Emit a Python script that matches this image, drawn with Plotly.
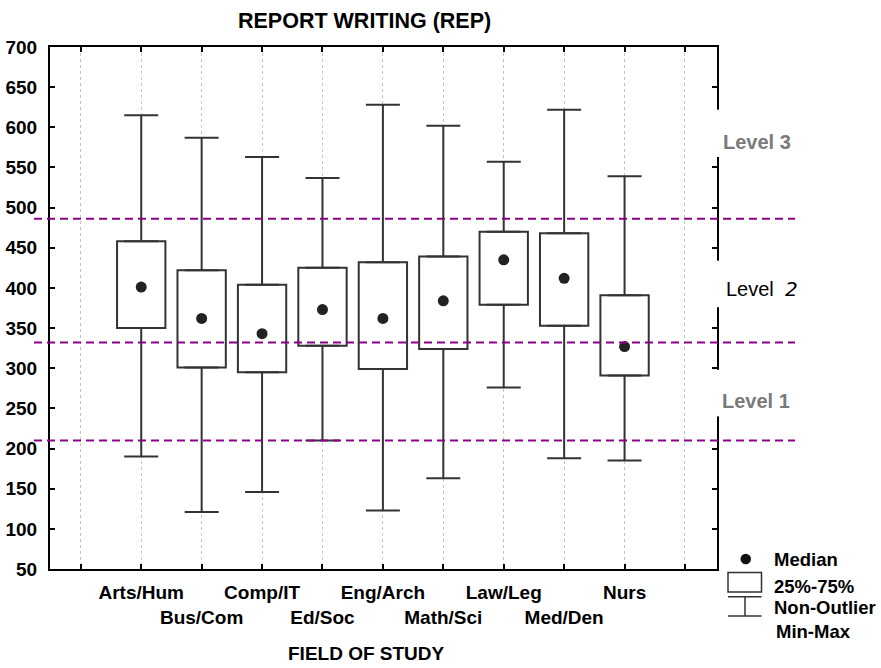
import plotly.graph_objects as go

# ---------------- data ----------------
categories = ["Arts/Hum", "Bus/Com", "Comp/IT", "Ed/Soc", "Eng/Arch",
              "Math/Sci", "Law/Leg", "Med/Den", "Nurs"]
minimum = [190, 121, 146, 210, 123, 163, 276, 188, 185]
q1 = [350, 301, 295, 328, 299, 324, 379, 353, 291]
median = [401, 362, 343, 373, 362, 384, 435, 412, 327]
q3 = [458, 422, 404, 425, 432, 439, 470, 468, 391]
maximum = [615, 587, 563, 537, 628, 602, 557, 622, 539]
level_values = [486, 332, 210]
level_names = ["Level 3", "Level 2", "Level 1"]
y_ticks = list(range(50, 701, 50))

# ---------------- layout geometry ----------------
W, H = 881, 668
L, R, T, B = 50, 164, 47, 99
PW, PH = W - L - R, H - T - B


def px_x(px):
    return (px - L) / PW


def px_y(py):
    return (H - B - py) / PH


positions = list(range(1, len(categories) + 1))
grid_vals = list(range(0, len(categories) + 2))
tick_text = [""] + [c if i % 2 == 0 else "<br>" + c for i, c in enumerate(categories)] + [""]

FONT = "Liberation Sans, Arial, sans-serif"
BOXC = "#333333"

iqr = [b - a for a, b in zip(q1, q3)]
upper_len = [m - b for b, m in zip(q3, maximum)]
lower_len = [a - m for a, m in zip(q1, minimum)]
zeros = [0] * len(categories)

fig = go.Figure()
# whiskers (error bars with caps)
fig.add_trace(go.Scatter(
    x=positions, y=q3, mode="markers", marker=dict(size=1, opacity=0),
    error_y=dict(type="data", array=upper_len, arrayminus=zeros,
                 color=BOXC, thickness=2, width=17),
    showlegend=False, hoverinfo="skip",
))
fig.add_trace(go.Scatter(
    x=positions, y=q1, mode="markers", marker=dict(size=1, opacity=0),
    error_y=dict(type="data", array=zeros, arrayminus=lower_len,
                 color=BOXC, thickness=2, width=17),
    showlegend=False, hoverinfo="skip",
))
# boxes 25%-75%
fig.add_trace(go.Bar(
    x=positions, y=iqr, base=q1, width=0.8,
    marker=dict(color="white", line=dict(color=BOXC, width=2)),
    showlegend=False, hoverinfo="skip",
))
# medians
fig.add_trace(go.Scatter(
    x=positions, y=median, mode="markers",
    marker=dict(color="#222222", size=11),
    showlegend=False, hoverinfo="skip",
))

axis_common = dict(
    showline=True, linecolor="black", linewidth=2, mirror="ticks",
    ticks="inside", ticklen=5, tickwidth=1.5, tickcolor="black",
    zeroline=False, automargin=False, tickangle=0,
    tickfont=dict(family=FONT, size=19, color="black", weight="bold"),
)
fig.update_xaxes(
    **axis_common, range=[-0.51, len(categories) + 1.53],
    tickvals=grid_vals, ticktext=tick_text,
    showgrid=True, gridcolor="#c4c4c4", griddash="dot", gridwidth=1,
    ticklabelstandoff=5,
)
fig.update_yaxes(
    **axis_common, range=[50, 700], tickvals=y_ticks, showgrid=False,
    ticklabelstandoff=7,
)

shapes = []
# level lines
for v in level_values:
    shapes.append(dict(type="line", xref="paper", yref="y",
                       x0=px_x(34), x1=px_x(795), y0=v, y1=v,
                       line=dict(color="#8b008b", width=2, dash="8px,5px"),
                       layer="above"))
# gaps in the right axis for level labels
gaps = [(563, 622), (376, 434), (240, 298)]
for a, b in gaps:
    shapes.append(dict(type="rect", xref="paper", yref="y",
                       x0=px_x(708), x1=px_x(726), y0=a, y1=b,
                       fillcolor="white", line=dict(width=0), layer="above"))
# legend symbols
shapes.append(dict(type="circle", xref="paper", yref="paper",
                   x0=px_x(740.5), x1=px_x(751), y0=px_y(564.3), y1=px_y(553.8),
                   fillcolor="#111111", line=dict(width=0)))
shapes.append(dict(type="rect", xref="paper", yref="paper",
                   x0=px_x(728), x1=px_x(761.5), y0=px_y(592), y1=px_y(572.5),
                   fillcolor="white", line=dict(color=BOXC, width=1.5)))
for yy in (596.7, 616):
    shapes.append(dict(type="line", xref="paper", yref="paper",
                       x0=px_x(728), x1=px_x(761.5), y0=px_y(yy), y1=px_y(yy),
                       line=dict(color=BOXC, width=1.5)))
shapes.append(dict(type="line", xref="paper", yref="paper",
                   x0=px_x(745), x1=px_x(745), y0=px_y(596.7), y1=px_y(616),
                   line=dict(color=BOXC, width=1.5)))

annotations = []


def add_text(text, x, y, size, color="black", bold=True, xanchor="left"):
    annotations.append(dict(
        text=text, xref="paper", yref="paper", x=px_x(x), y=px_y(y),
        xanchor=xanchor, yanchor="middle", showarrow=False,
        font=dict(family=FONT, size=size, color=color,
                  weight="bold" if bold else "normal")))


add_text("REPORT WRITING (REP)", 364.5, 21, 21.5, xanchor="center")
add_text("FIELD OF STUDY", 366, 653, 19, xanchor="center")
add_text(level_names[0], 721, 141.7, 20, color="#7a7a7a")
add_text("Level  <i><span style='font-family:DejaVu Sans;font-weight:200'>2</span></i>",
         724, 289.3, 20, bold=False)
add_text(level_names[2], 720, 400.7, 20, color="#7a7a7a")
add_text("Median", 771.5, 559, 18.5)
add_text("25%-75%", 771.5, 586, 18.5)
add_text("Non-Outlier", 771.5, 607.7, 18.5)
add_text("Min-Max", 774, 631, 18.5)

fig.update_layout(
    width=W, height=H,
    margin=dict(l=L, r=R, t=T, b=B),
    paper_bgcolor="white", plot_bgcolor="white",
    shapes=shapes, annotations=annotations,
    showlegend=False, barmode="overlay",
)

fig.write_html("out.html")
